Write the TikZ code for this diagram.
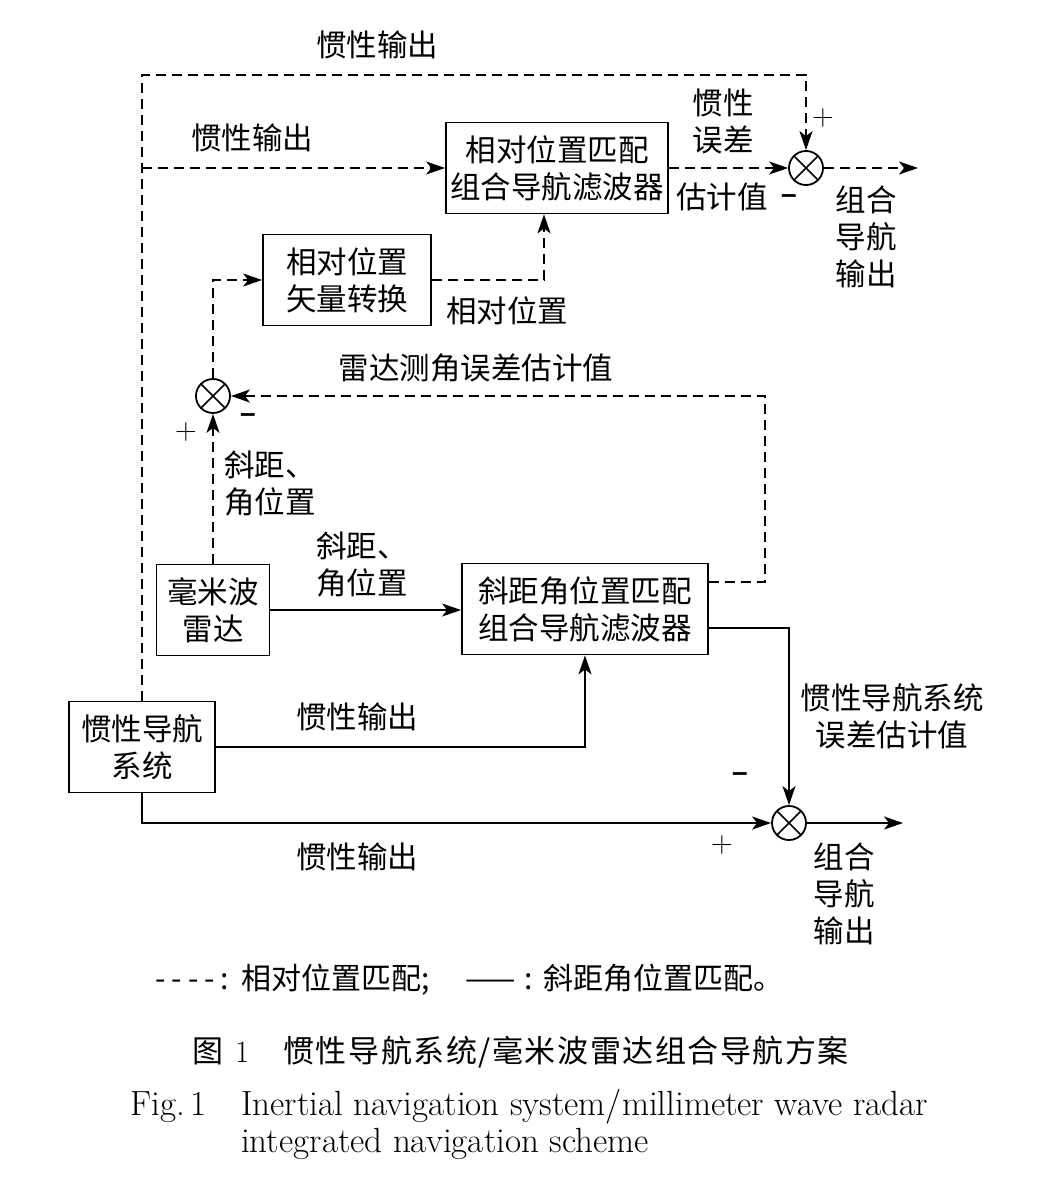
\documentclass[tikz,border=0pt]{standalone}
\usepackage{fontspec}
\newfontfamily\cjk{Noto Sans CJK SC}
\newfontfamily\cjkcap[LetterSpace=5]{Noto Sans CJK SC}
\usetikzlibrary{arrows.meta,calc}
\tikzset{
  every node/.style={font=\cjk\fontsize{30.5}{37}\selectfont, inner sep=0pt, align=center},
  box/.style={draw, line width=1.8pt, minimum height=91pt},
  sumc/.style={draw, circle, line width=1.8pt, minimum size=34pt,
    path picture={\draw[line width=1.5pt] (path picture bounding box.north east) -- (path picture bounding box.south west)
      (path picture bounding box.north west) -- (path picture bounding box.south east);}},
  ln/.style={line width=1.8pt},
  dsh/.style={line width=1.8pt, dash pattern=on 10pt off 6pt},
  arr/.style={-{Stealth[length=19pt,width=13pt,inset=5pt]}},
  sgn/.style={font=\fontsize{30}{30}\selectfont},
  mns/.style={font=\fontspec{Liberation Sans}\bfseries\fontsize{28}{28}\selectfont},
}
\begin{document}
\begin{tikzpicture}[x=1pt,y=-1pt]
\useasboundingbox[fill=white] (0,0) rectangle (1044,1181);
% blocks
\node[box, minimum width=222pt] (B1) at (557,168) {相对位置匹配\\组合导航滤波器};
\node[box, minimum width=168pt] (B2) at (347,280) {相对位置\\矢量转换};
\node[box, minimum width=113pt] (R) at (213,610) {毫米波\\雷达};
\node[box, minimum width=246pt] (B3) at (585,609) {斜距角位置匹配\\组合导航滤波器};
\node[box, minimum width=146pt] (I) at (142,747) {惯性导航\\系统};
\node[sumc] (C1) at (806,168) {};
\node[sumc] (C2) at (213,396) {};
\node[sumc] (C3) at (789,823) {};
\coordinate (tr) at (806,75);
\coordinate (o1) at (918,168);
\coordinate (r2) at (765,396);
\coordinate (o3) at (903,823);
% dashed connectors
\draw[dsh,arr] (I.north) |- (tr) -- (C1.north);
\draw[dsh,arr] (I.north |- B1.west) -- (B1.west);
\draw[dsh,arr] (B1.east) -- (C1.west);
\draw[dsh,arr] (C1.east) -- (o1);
\draw[dsh,arr] (B2.east) -| ([xshift=-13pt]B1.south);
\draw[dsh,arr] (C2.north) |- (B2.west);
\draw[dsh,arr] (R.north) -- (C2.south);
\draw[dsh,arr] ([yshift=27pt]B3.east) -| (r2) -- (C2.east);
% solid connectors
\draw[ln,arr] (R.east) -- (R.east -| B3.west);
\draw[ln,arr] ([yshift=-19pt]B3.east) -| (C3.north);
\draw[ln,arr] (I.east) -| (B3.south);
\draw[ln,arr] (I.south) |- (C3.west);
\draw[ln,arr] (C3.east) -- (o3);
% labels
\node (l1) at (377,45) {惯性输出};
\node (l2) at (252,138) {惯性输出};
\node (l3) at (723,121) {惯性\\误差};
\node (l4) at (722,197) {估计值};
\node[mns] (m1) at (789,199) {–};
\node[sgn] (p1) at (823,118) {+};
\node (l5) at (866,237) {组合\\导航\\输出};
\node (l6) at (507,311) {相对位置};
\node (l7) at (476,368) {雷达测角误差估计值};
\node[mns] (m2) at (248,418) {–};
\node[sgn] (p2) at (186,432) {+};
\node (l8) at (270,484) {斜距、\\角位置};
\node (l9) at (362,565) {斜距、\\角位置};
\node (l10) at (892,716) {惯性导航系统\\误差估计值};
\node[mns] (m3) at (740,777) {–};
\node[sgn] (p3) at (722,845) {+};
\node (l11) at (357,717) {惯性输出};
\node (l12) at (357,857) {惯性输出};
\node (l13) at (844,894) {组合\\导航\\输出};
% legend and caption
\node[anchor=west, font=\cjk\fontsize{30}{34}\selectfont] (leg) at (155,980) {-\hspace{6pt}-\hspace{6pt}-\hspace{6pt}-\hspace{6pt}:\hspace{12pt}相对位置匹配;\hspace{36pt}——\hspace{9pt}:\hspace{10pt}斜距角位置匹配。};
\node[anchor=west, font=\cjkcap\fontsize{31}{34}\selectfont] (cap) at (192,1052) {图\hspace{12pt}{\rmfamily 1}\hspace{34pt}惯性导航系统/毫米波雷达组合导航方案};
\node[anchor=base west, font=\rmfamily\fontsize{35}{40}\selectfont] (fig) at (130,1115) {Fig.\,1};
\node[anchor=base west, font=\rmfamily\fontsize{35}{40}\selectfont] (en1) at (241,1115) {Inertial navigation system/millimeter wave radar};
\node[anchor=base west, font=\rmfamily\fontsize{35}{40}\selectfont] (en2) at (241,1152) {integrated navigation scheme};
\end{tikzpicture}
\end{document}
